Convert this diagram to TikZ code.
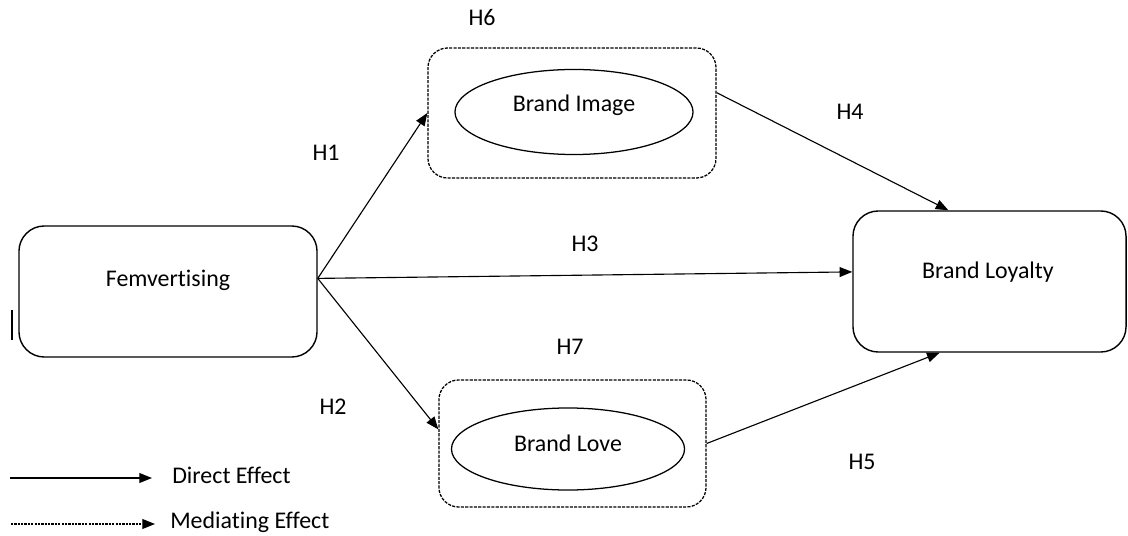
\documentclass[tikz,border=0pt]{standalone}
\usepackage{fontspec}
\setmainfont{Carlito}[Ligatures={NoCommon}]
\usepackage{tikz}
\usetikzlibrary{positioning,shapes.geometric,arrows.meta}

\tikzset{
  construct/.style={draw, line width=1pt, rounded corners=18pt, inner sep=0pt},
  mediator/.style={draw, line width=0.9pt, dash pattern=on 2.2pt off 0.9pt, rounded corners=14pt, inner sep=0pt},
  latent/.style={draw, ellipse, line width=0.9pt, inner sep=0pt},
  hyp/.style={inner sep=0pt},
  direct/.style={line width=0.8pt, -{Triangle[length=9pt,width=7pt]}},
  mediating/.style={line width=0.8pt, dash pattern=on 1.6pt off 0.8pt, -{Triangle[length=9pt,width=7pt]}}
}

\begin{document}
\begin{tikzpicture}[x=0.025cm, y=-0.025cm, font=\fontsize{17}{20}\selectfont]
  \useasboundingbox (0,0) rectangle (1128,536);

  \node[construct, minimum width=7.45cm, minimum height=3.275cm] (femv) at (168,291.5) {};
  \node (femvtext) at (168,280) {Femvertising};
  \node[construct, minimum width=6.825cm, minimum height=3.525cm] (loyal) at (989.5,281.5) {};
  \node (loyaltext) at (988,272) {Brand Loyalty};

  \node[mediator, minimum width=7.2cm, minimum height=3.25cm] (imgbox) at (572,113) {};
  \node[latent, minimum width=5.95cm, minimum height=2.125cm] (image) at (574,112) {};
  \node (imagetext) at (574,105) {Brand Image};

  \node[mediator, minimum width=6.675cm, minimum height=3.175cm] (lovebox) at (572.5,443.5) {};
  \node[latent, minimum width=5.825cm, minimum height=2.05cm] (love) at (568,449) {};
  \node (lovetext) at (568,443) {Brand Love};

  \draw[direct] (femv.5) -- (imgbox.west);
  \draw[direct] (femv.5) -- (lovebox.174);
  \draw[direct] (femv.5) -- (loyal.176);
  \draw[direct] (imgbox.8) -- (loyal.120);
  \draw[direct] (lovebox.east) -- (loyal.235);

  \node[hyp] (h6) at (482,18) {H6};
  \node[hyp] (h1) at (326,153) {H1};
  \node[hyp] (h3) at (585,244) {H3};
  \node[hyp] (h4) at (850,112) {H4};
  \node[hyp] (h7) at (570,347) {H7};
  \node[hyp] (h2) at (333,407) {H2};
  \node[hyp] (h5) at (862,462) {H5};

  \draw[line width=0.8pt] (12,310) -- (12,340);

  \coordinate (dirfrom) at (10,478);
  \coordinate (dirto) at (152,478);
  \draw[direct] (dirfrom) -- (dirto);
  \node[anchor=west, inner sep=0pt] (dirlbl) at (172,475) {Direct Effect};

  \coordinate (medfrom) at (11,524);
  \coordinate (medto) at (155,524);
  \draw[mediating] (medfrom) -- (medto);
  \node[anchor=west, inner sep=0pt] (medlbl) at (170,522) {Mediating Effect};
\end{tikzpicture}
\end{document}
